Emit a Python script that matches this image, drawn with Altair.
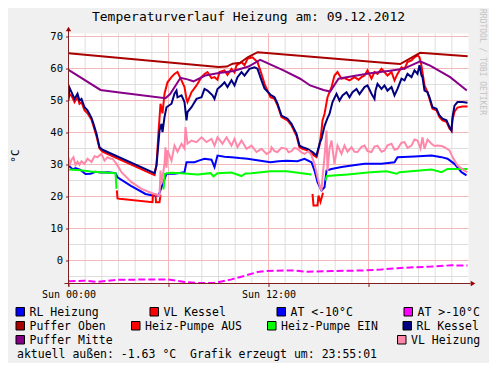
import altair as alt
import pandas as pd

# ---------------- texts ----------------
title_text = "Temperaturverlauf Heizung am: 09.12.2012"
footer_text = "aktuell außen: -1.63 °C \u00a0Grafik erzeugt um: 23:55:01"
watermark = "RRDTOOL / TOBI OETIKER"
unit_label = "°C"

x_ticks = [0, 6, 12, 18]
x_tick_labels = {0: "Sun 00:00", 12: "Sun 12:00"}
y_ticks = [0, 10, 20, 30, 40, 50, 60, 70]
x_minor = list(range(1, 24))
x_major = [6, 12, 18]
y_minor = [-5, 5, 15, 25, 35, 45, 55, 65]
y_major = [0, 10, 20, 30, 40, 50, 60, 70]

# ---------------- data: (hour of day, °C) ----------------
rl_heizung = [
    (0.00, 29.7), (0.24, 28.5), (0.42, 28.9), (0.72, 28.3), (1.02, 27.0), (1.32, 27.1),
    (1.62, 27.7), (1.92, 27.5), (2.40, 27.6), (2.82, 27.3), (2.94, 26.0), (3.72, 23.4),
    (4.62, 20.8), (5.04, 20.3), (5.40, 20.3), (5.70, 24.5), (5.88, 27.1), (6.36, 27.1),
    (6.96, 27.6), (7.08, 30.7), (7.56, 30.7), (7.86, 31.3), (8.16, 31.8), (8.58, 31.5),
    (8.76, 29.2), (8.94, 32.8), (9.36, 32.4), (9.78, 32.3), (10.26, 32.0), (10.74, 31.8),
    (11.52, 31.2), (12.12, 30.7), (12.60, 31.0), (13.08, 31.2), (13.74, 31.0),
    (14.16, 31.8), (14.58, 30.7), (14.76, 28.1), (14.94, 24.5), (15.18, 21.9),
    (15.36, 22.9), (15.48, 28.1), (15.78, 28.6), (16.38, 29.2), (17.10, 29.8),
    (17.76, 30.2), (18.78, 30.2), (19.56, 30.7), (19.74, 32.3), (20.76, 32.5),
    (21.78, 32.8), (22.38, 32.3), (22.74, 31.8), (23.16, 30.2), (23.58, 27.6),
    (23.88, 26.6),
]

vl_kessel = [
    (0.00, 50.0), (0.06, 52.0), (0.18, 51.5), (0.36, 49.5), (0.54, 51.0), (0.66, 49.0),
    (0.78, 49.5), (0.96, 47.0), (1.14, 46.0), (1.38, 44.0), (1.50, 42.0), (1.68, 38.8),
    (1.86, 35.0), (2.04, 34.0), (5.16, 26.7), (5.28, 30.0), (5.40, 40.0), (5.52, 49.0),
    (5.64, 46.0), (5.76, 52.1), (5.94, 55.7), (6.18, 57.3), (6.36, 58.3), (6.54, 58.9),
    (6.78, 56.3), (6.96, 54.2), (7.08, 50.5), (7.14, 49.5), (7.38, 52.6), (7.68, 54.7),
    (7.98, 57.3), (8.16, 58.3), (8.34, 58.9), (8.58, 57.0), (8.76, 57.3), (8.94, 56.5),
    (9.06, 58.9), (9.36, 59.4), (9.54, 58.0), (9.78, 59.9), (9.96, 58.8), (10.08, 61.0),
    (10.38, 62.0), (10.56, 61.0), (10.74, 63.0), (11.04, 63.5), (11.34, 62.0),
    (11.58, 58.3), (11.76, 55.2), (12.12, 51.0), (12.36, 50.5), (12.54, 48.5),
    (12.78, 44.8), (13.14, 43.8), (13.38, 42.2), (13.68, 39.0), (13.86, 35.4),
    (14.04, 34.9), (14.34, 34.4), (14.58, 33.4), (14.88, 32.3), (15.06, 36.0),
    (15.18, 40.6), (15.24, 43.8), (15.36, 45.8), (15.54, 51.0), (15.78, 54.2),
    (15.96, 57.8), (16.14, 58.9), (16.38, 56.8), (16.56, 57.0), (16.86, 56.3),
    (17.16, 57.3), (17.40, 56.5), (17.58, 57.3), (17.76, 57.8), (17.94, 59.4),
    (18.18, 56.8), (18.36, 58.9), (18.54, 58.3), (18.78, 59.9), (18.96, 58.9),
    (19.14, 57.8), (19.38, 58.9), (19.56, 56.3), (19.74, 58.3), (19.98, 60.4),
    (20.16, 59.9), (20.34, 62.0), (20.58, 62.5), (20.76, 63.5), (20.94, 64.1),
    (21.06, 63.5), (21.18, 60.9), (21.36, 54.7), (21.54, 52.6), (21.66, 50.5),
    (21.84, 47.4), (22.08, 46.9), (22.26, 44.8), (22.44, 43.8), (22.68, 43.3),
    (22.86, 41.2), (22.98, 40.6), (23.04, 44.0), (23.16, 46.5), (23.34, 47.8),
    (23.64, 48.1), (23.94, 48.1),
]

at_unter_10 = []  # AT <-10°C: no values on this day

at_ueber_10 = [
    (0.00, -6.5), (0.96, -6.3), (1.74, -6.7), (2.94, -6.0), (3.78, -6.0), (5.34, -5.9),
    (5.94, -5.9), (6.96, -6.7), (7.74, -7.0), (8.76, -7.0), (9.78, -5.9), (10.56, -4.8),
    (11.34, -3.6), (11.76, -3.3), (13.38, -3.1), (14.34, -3.5), (15.78, -3.3),
    (17.76, -3.1), (18.78, -2.8), (19.74, -2.4), (20.76, -2.1), (21.78, -1.9),
    (22.98, -1.5), (23.94, -1.6),
]

puffer_oben = [
    (0.00, 64.8), (9.00, 60.5), (9.50, 60.6), (9.85, 61.5), (10.30, 61.8),
    (10.75, 63.5), (11.35, 65.1), (19.10, 61.7), (19.90, 61.4), (21.10, 64.9),
    (23.95, 63.8),
]

pumpe_aus_1 = [
    (2.90, 21.9), (2.94, 19.4), (3.06, 19.3), (5.04, 18.2), (5.07, 20.6), (5.22, 20.6),
    (5.25, 18.2), (5.46, 18.2), (5.52, 20.6),
]
pumpe_aus_2 = [
    (14.64, 20.8), (14.70, 17.2), (14.94, 17.2), (15.00, 20.3), (15.12, 18.3),
    (15.27, 21.2),
]

pumpe_ein_1 = [
    (0.00, 28.4), (0.72, 28.2), (1.32, 27.8), (1.92, 27.6), (2.82, 27.3), (2.88, 22.4),
]
pumpe_ein_2 = [
    (5.70, 22.2), (5.78, 27.1), (6.12, 27.4), (6.78, 27.3), (7.74, 26.9), (8.52, 27.3),
    (8.70, 26.3), (8.94, 27.3), (9.78, 27.5), (10.38, 26.4), (10.62, 27.2),
    (10.98, 27.3), (12.12, 27.9), (13.08, 27.9), (14.58, 26.9),
]
pumpe_ein_3 = [
    (15.42, 25.0), (15.50, 26.4), (16.74, 26.9), (18.12, 27.6), (19.08, 27.9),
    (19.68, 27.1), (19.86, 27.6), (21.78, 28.4), (22.38, 27.6), (22.74, 28.6),
    (23.94, 28.6),
]

rl_kessel = [
    (0.00, 51.0), (0.06, 54.0), (0.18, 52.6), (0.36, 50.5), (0.54, 52.1), (0.66, 50.0),
    (0.78, 50.5), (0.96, 47.9), (1.14, 46.9), (1.38, 44.6), (1.50, 42.7), (1.68, 39.6),
    (1.86, 35.4), (2.04, 34.6), (5.16, 27.3), (5.28, 29.7), (5.34, 33.3), (5.46, 40.6),
    (5.58, 42.7), (5.64, 40.1), (5.76, 44.8), (5.88, 47.9), (6.18, 49.0), (6.36, 52.1),
    (6.48, 53.1), (6.54, 51.0), (6.78, 51.6), (6.96, 49.5), (7.08, 43.8), (7.14, 46.4),
    (7.38, 47.9), (7.68, 50.5), (7.98, 51.0), (8.16, 53.6), (8.34, 53.1), (8.64, 51.6),
    (8.76, 50.5), (8.94, 53.6), (9.18, 54.7), (9.36, 55.7), (9.54, 54.2), (9.78, 56.3),
    (9.96, 54.7), (10.14, 57.3), (10.38, 58.9), (10.56, 57.8), (10.86, 59.9),
    (11.16, 60.4), (11.34, 59.9), (11.58, 56.3), (11.76, 53.8), (12.12, 51.8),
    (12.36, 51.0), (12.54, 49.0), (12.78, 45.3), (13.14, 44.3), (13.38, 42.7),
    (13.68, 39.6), (13.86, 35.9), (14.04, 35.4), (14.34, 34.9), (14.64, 33.9),
    (14.88, 32.8), (15.06, 36.5), (15.18, 38.0), (15.36, 42.0), (15.54, 44.5),
    (15.66, 45.8), (15.84, 49.5), (16.08, 52.1), (16.26, 50.0), (16.44, 51.6),
    (16.68, 52.6), (16.86, 51.0), (17.04, 52.6), (17.28, 53.6), (17.46, 52.0),
    (17.76, 54.2), (17.94, 54.7), (18.18, 52.1), (18.36, 50.5), (18.42, 53.1),
    (18.54, 55.2), (18.78, 53.6), (18.96, 54.7), (19.14, 53.1), (19.38, 54.2),
    (19.56, 51.6), (19.74, 53.6), (19.98, 56.8), (20.16, 56.3), (20.34, 58.3),
    (20.58, 57.3), (20.76, 59.4), (20.94, 58.3), (21.06, 61.0), (21.18, 57.8),
    (21.24, 57.3), (21.36, 53.1), (21.54, 52.6), (21.66, 51.0), (21.84, 47.9),
    (22.08, 47.4), (22.26, 45.3), (22.44, 44.3), (22.68, 43.8), (22.86, 41.7),
    (22.98, 40.6), (23.04, 44.8), (23.16, 48.4), (23.34, 49.5), (23.64, 49.5),
    (23.94, 49.3),
]

puffer_mitte = [
    (0.00, 59.6), (1.92, 53.3), (2.94, 52.6), (5.82, 50.7), (6.10, 52.0), (6.72, 57.1),
    (7.14, 56.6), (7.50, 56.0), (8.20, 57.8), (8.94, 58.5), (9.90, 59.2), (10.80, 60.6),
    (11.50, 62.7), (12.90, 59.4), (13.90, 56.8), (14.50, 54.7), (15.30, 53.3),
    (15.70, 52.8), (16.20, 56.8), (16.50, 57.1), (18.10, 58.5), (19.30, 59.3),
    (20.10, 59.9), (21.10, 62.2), (21.70, 60.9), (22.90, 57.3), (23.90, 53.1),
]

vl_heizung = [
    (0.00, 32.3), (0.06, 29.7), (0.18, 31.5), (0.30, 32.3), (0.42, 29.8), (0.54, 30.9),
    (0.66, 29.9), (0.78, 31.0), (0.96, 30.2), (1.14, 31.8), (1.38, 30.8), (1.56, 32.6),
    (1.74, 32.3), (1.98, 33.3), (2.16, 31.2), (2.34, 32.3), (2.52, 31.8), (2.64, 31.8),
    (2.88, 30.2), (3.18, 27.6), (3.78, 24.5), (4.38, 22.4), (4.98, 21.1), (5.46, 20.3),
    (5.52, 28.1), (5.58, 24.0), (5.64, 26.0), (5.76, 30.2), (5.82, 35.4), (5.88, 29.0),
    (5.94, 34.4), (6.18, 31.2), (6.36, 35.9), (6.54, 34.0), (6.78, 36.5), (6.96, 35.0),
    (7.02, 41.7), (7.14, 36.5), (7.38, 37.5), (7.68, 37.0), (7.98, 38.5), (8.28, 37.0),
    (8.58, 38.0), (8.76, 35.9), (8.94, 38.5), (9.24, 36.5), (9.48, 38.5), (9.78, 35.9),
    (9.96, 38.0), (10.14, 35.4), (10.38, 37.5), (10.68, 34.9), (10.98, 35.9),
    (11.28, 33.9), (11.58, 34.9), (11.88, 33.3), (12.12, 34.0), (12.18, 35.4),
    (12.36, 34.2), (12.54, 33.9), (12.78, 35.2), (13.08, 34.9), (13.20, 33.8),
    (13.38, 34.2), (13.56, 35.2), (13.74, 34.9), (13.98, 33.8), (14.16, 33.3),
    (14.40, 34.2), (14.58, 32.8), (14.76, 30.2), (14.94, 26.0), (15.12, 22.4),
    (15.18, 22.0), (15.24, 26.0), (15.36, 32.3), (15.48, 40.6), (15.54, 28.0),
    (15.66, 35.0), (15.78, 37.5), (15.96, 30.2), (16.14, 35.9), (16.38, 33.3),
    (16.56, 35.9), (16.74, 34.0), (16.98, 35.4), (17.16, 34.0), (17.34, 33.9),
    (17.58, 35.5), (17.76, 35.9), (17.94, 34.2), (18.18, 33.9), (18.36, 35.6),
    (18.54, 35.9), (18.78, 34.0), (18.96, 34.4), (19.14, 36.0), (19.38, 36.5),
    (19.56, 34.6), (19.74, 34.9), (19.98, 36.8), (20.16, 37.0), (20.34, 35.2),
    (20.58, 35.9), (20.76, 37.8), (20.94, 37.5), (21.12, 35.0), (21.24, 38.5),
    (21.36, 34.9), (21.54, 37.8), (21.78, 36.5), (21.96, 35.8), (22.14, 35.9),
    (22.38, 35.8), (22.56, 35.4), (22.86, 34.4), (23.04, 32.3), (23.34, 29.7),
    (23.76, 28.1), (23.94, 27.6),
]

# ---------------- styles ----------------
COL = {
    "RL Heizung": "#0000ff", "VL Kessel": "#ff0000", "AT <-10°C": "#0000ff",
    "AT >-10°C": "#ff00ff", "Puffer Oben": "#aa0000", "Heiz-Pumpe AUS": "#ff0000",
    "Heiz-Pumpe EIN": "#00ff00", "RL Kessel": "#000080", "Puffer Mitte": "#880088",
    "VL Heizung": "#ff88aa",
}
MONO = "DejaVu Sans Mono"
AXIS_COL = "#802020"
ARROW_COL = "#a00000"
MINOR_COL = "#dedede"
MAJOR_COL = "#f5b8b8"

W, H = 400, 250
PAD = {"left": 60.5, "top": 25.5, "right": 20.5, "bottom": 79.5}
OX = 8 + PAD["left"]
OY = 8 + PAD["top"]

xs = alt.Scale(domain=[0, 24], nice=False, zero=False)
ys = alt.Scale(domain=[-7.1875, 70.9375], nice=False, zero=False)

label_expr = " : ".join(
    f"datum.value == {k} ? '{v}'" for k, v in x_tick_labels.items()
) + " : ''"

x_axis = alt.Axis(values=x_ticks, labelExpr=label_expr, domain=False, grid=False,
                  tickColor=AXIS_COL, tickSize=3, labelFont=MONO, labelFontSize=10,
                  labelColor="black", labelPadding=3, title=None, labelFlush=False,
                  labelOverlap=False, labelBound=False)
y_axis = alt.Axis(values=y_ticks, domain=False, grid=False, tickColor=AXIS_COL,
                  tickSize=3, labelFont=MONO, labelFontSize=10.5, labelColor="black",
                  labelPadding=3, title=None)

X = lambda f: alt.X(f, scale=xs, axis=x_axis)
Y = lambda f: alt.Y(f, scale=ys, axis=y_axis)

layers = []

# grid
layers.append(alt.Chart(pd.DataFrame({"h": x_minor})).mark_rule(color=MINOR_COL, strokeWidth=1)
              .encode(x=X("h:Q")))
layers.append(alt.Chart(pd.DataFrame({"v": y_minor})).mark_rule(color=MINOR_COL, strokeWidth=1)
              .encode(y=Y("v:Q")))
layers.append(alt.Chart(pd.DataFrame({"h": x_major})).mark_rule(color=MAJOR_COL, strokeWidth=1)
              .encode(x=X("h:Q")))
layers.append(alt.Chart(pd.DataFrame({"v": y_major})).mark_rule(color=MAJOR_COL, strokeWidth=1)
              .encode(y=Y("v:Q")))


def line_layer(name, segments, dash=None):
    rows = []
    for si, seg in enumerate(segments):
        for i, (h, v) in enumerate(seg):
            rows.append({"h": h, "v": v, "seg": si, "i": i})
    if not rows:
        return None
    kw = {"color": COL[name], "strokeWidth": 2, "clip": True}
    if dash:
        kw["strokeDash"] = dash
    return (alt.Chart(pd.DataFrame(rows)).mark_line(**kw)
            .encode(x=X("h:Q"), y=Y("v:Q"), detail="seg:N", order="i:Q"))


draw = [
    ("RL Heizung", [rl_heizung], None),
    ("VL Kessel", [vl_kessel], None),
    ("AT <-10°C", [at_unter_10], None),
    ("AT >-10°C", [at_ueber_10], [7, 3]),
    ("Puffer Oben", [puffer_oben], None),
    ("Heiz-Pumpe AUS", [pumpe_aus_1, pumpe_aus_2], None),
    ("Heiz-Pumpe EIN", [pumpe_ein_1, pumpe_ein_2, pumpe_ein_3], None),
    ("RL Kessel", [rl_kessel], None),
    ("Puffer Mitte", [puffer_mitte], None),
    ("VL Heizung", [vl_heizung], None),
]
for name, segs, dash in draw:
    lay = line_layer(name, segs, dash)
    if lay is not None:
        layers.append(lay)

# axis lines and arrows
layers.append(alt.Chart().mark_rule(color=AXIS_COL, strokeWidth=1)
              .encode(x=alt.value(0), y=alt.value(-3), y2=alt.value(H + 3)))
layers.append(alt.Chart().mark_rule(color=AXIS_COL, strokeWidth=1)
              .encode(y=alt.value(H), x=alt.value(-4), x2=alt.value(W + 2)))
layers.append(alt.Chart().mark_point(shape="triangle-up", filled=True, size=28,
                                     color=ARROW_COL, opacity=1)
              .encode(x=alt.value(0), y=alt.value(-4.5)))
layers.append(alt.Chart().mark_point(shape="triangle-right", filled=True, size=28,
                                     color=ARROW_COL, opacity=1)
              .encode(x=alt.value(W + 4.5), y=alt.value(H)))


# title, unit, watermark, footer
def text_layer(txt, px, py, size, **kw):
    return (alt.Chart(pd.DataFrame({"t": [txt]}))
            .mark_text(font=MONO, fontSize=size, **kw)
            .encode(text="t:N", x=alt.value(px - OX), y=alt.value(py - OY)))


layers.append(text_layer(title_text, 248.5, 21, 13, align="center", baseline="alphabetic", color="black"))
layers.append(text_layer(unit_label, 16, 156, 11, align="center", baseline="middle", angle=270, color="black"))
layers.append(text_layer(watermark, 482, 62, 8, align="center", baseline="middle", angle=90, color="#c4c4c4"))
layers.append(text_layer(footer_text, 17, 357.5, 11.5, align="left", baseline="alphabetic", color="black"))

# legend
legend_items = [
    ("RL Heizung", 16, 0), ("VL Kessel", 150, 0), ("AT <-10°C", 277, 0), ("AT >-10°C", 404, 0),
    ("Puffer Oben", 16, 1), ("Heiz-Pumpe AUS", 131.5, 1), ("Heiz-Pumpe EIN", 267.5, 1),
    ("RL Kessel", 403, 1), ("Puffer Mitte", 16, 2), ("VL Heizung", 397.5, 2),
]
leg = pd.DataFrame([
    {"label": lab, "color": COL[lab],
     "x": bx - OX, "x2": bx + 8.5 - OX,
     "y": 307.5 + 14 * r - OY, "y2": 316 + 14 * r - OY,
     "tx": bx + 13.5 - OX, "ty": 316 + 14 * r - OY}
    for lab, bx, r in legend_items
])
layers.append(alt.Chart(leg).mark_rect(stroke="black", strokeWidth=1)
              .encode(x=alt.X("x:Q", scale=None), x2="x2:Q",
                      y=alt.Y("y:Q", scale=None), y2="y2:Q",
                      fill=alt.Fill("color:N", scale=None)))
layers.append(alt.Chart(leg).mark_text(align="left", baseline="alphabetic", font=MONO,
                                       fontSize=11.5, color="black")
              .encode(x=alt.X("tx:Q", scale=None), y=alt.Y("ty:Q", scale=None), text="label:N"))

chart = alt.layer(*layers).properties(
    width=W, height=H, padding=PAD,
    autosize=alt.AutoSizeParams(type="none"),
    background="#f0f0f0",
).configure_view(fill="white", stroke=None)

chart.save("out.html", embed_options={"renderer": "svg", "actions": False})
